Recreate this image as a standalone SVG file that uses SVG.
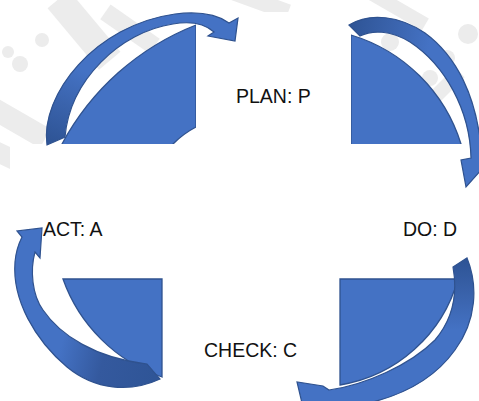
<svg xmlns="http://www.w3.org/2000/svg" width="479" height="401" viewBox="0 0 479 401">
<style>
.pie{fill:#4472C4;stroke:#2F528F;stroke-width:1.3}
.arr{stroke:#2F528F;stroke-width:1.2;stroke-linejoin:miter}
.wm{fill:#ececec}
.lbl{font-family:"Liberation Sans",Arial,sans-serif;font-size:19.5px;fill:#111}
</style>
<defs>
<linearGradient id="g1" gradientUnits="userSpaceOnUse" x1="52" y1="140" x2="80" y2="70"><stop offset="0" stop-color="#2F5597"/><stop offset="0.5" stop-color="#3A63AC"/><stop offset="1" stop-color="#4472C4"/></linearGradient>
<linearGradient id="g2" gradientUnits="userSpaceOnUse" x1="352" y1="28" x2="430" y2="40"><stop offset="0" stop-color="#2F5597"/><stop offset="0.5" stop-color="#3A63AC"/><stop offset="1" stop-color="#4472C4"/></linearGradient>
<linearGradient id="g3" gradientUnits="userSpaceOnUse" x1="462" y1="262" x2="462" y2="330"><stop offset="0" stop-color="#2F5597"/><stop offset="0.5" stop-color="#3A63AC"/><stop offset="1" stop-color="#4472C4"/></linearGradient>
<linearGradient id="g4" gradientUnits="userSpaceOnUse" x1="155" y1="374" x2="60" y2="350"><stop offset="0" stop-color="#2F5597"/><stop offset="0.55" stop-color="#34599E"/><stop offset="1" stop-color="#4472C4"/></linearGradient>
</defs>
<rect width="479" height="401" fill="#fff"/>
<g id="watermark">
<rect class="wm" x="70" y="-10" width="28" height="80" transform="rotate(-40 84 30)"/>
<rect class="wm" x="100" y="20" width="60" height="18" transform="rotate(35 130 29)"/>
<circle class="wm" cx="20" cy="64" r="8"/>
<circle class="wm" cx="8" cy="52" r="6"/>
<circle class="wm" cx="42" cy="40" r="7"/>
<rect class="wm" x="-20" y="110" width="70" height="22" transform="rotate(30 15 121)"/>
<rect class="wm" x="-10" y="148" width="40" height="20" transform="rotate(25 10 158)"/>
<rect class="wm" x="230" y="-6" width="60" height="16" transform="rotate(20 260 2)"/>
<circle class="wm" cx="390" cy="42" r="9"/>
<circle class="wm" cx="468" cy="34" r="10"/>
<circle class="wm" cx="447" cy="58" r="8"/>
<circle class="wm" cx="430" cy="78" r="8"/>
<rect class="wm" x="360" y="0" width="70" height="14" transform="rotate(30 395 7)"/>
<rect class="wm" x="400" y="90" width="70" height="14" transform="rotate(-45 435 97)"/>
</g>
<g id="pie-plan-left"><path class="pie" d="M62,150 L62,144 A260,260 0 0 1 196,25 L196,127 A92,92 0 0 0 173,144 L168,150 Z"/></g>
<g id="pie-plan-right"><path class="pie" d="M351,150 L351,35 A165,165 0 0 1 461,144 L462,150 Z"/></g>
<rect x="196" y="12" width="155" height="132" fill="#fff"/>
<rect x="10" y="144" width="469" height="257" fill="#fff"/>
<g id="pie-act"><path class="pie" d="M63,279 L162,279 L162,377 A160,160 0 0 1 63,279 Z"/></g>
<g id="pie-check"><path class="pie" d="M340,279 L458,279 A147,147 0 0 1 340,385 Z"/></g>
<g id="connectors">
<path class="arr" fill="url(#g1)" d="M47,145 C40,95 95,25 175,14 C200,11 218,15 229,23 L238,18 L235,41 L208,36 L214,32 C205,24 190,21 173,24 C120,32 70,80 65,137 Z"/>
<path class="arr" fill="url(#g2)" d="M349,25 C370,12 400,16 425,33 C455,55 478,95 482,158 L490,160 L466,187 L461,160 L471,158 C470,110 445,65 410,42 C390,30 372,30 360,36 Z"/>
<path class="arr" fill="url(#g3)" d="M467,258 C478,285 477,320 455,350 C430,385 390,402 340,408 L313,411 L306,420 L297,382 L323,386 L329,390 C365,385 410,365 435,340 C452,320 458,295 453,267 Z"/>
<path class="arr" fill="url(#g4)" d="M160,379 C130,393 95,390 67,367 C35,340 12,300 15,262 C16,250 19,243 22,237 L17,231 L42,228 L40,258 L35,252 C30,270 32,295 43,310 C60,335 95,358 147,364 Z"/>
</g>
<g id="node-plan"><text class="lbl" x="236" y="103">PLAN: P</text></g>
<g id="node-do"><text class="lbl" x="403" y="236">DO: D</text></g>
<g id="node-check"><text class="lbl" x="204" y="357">CHECK: C</text></g>
<g id="node-act"><text class="lbl" x="43" y="236">ACT: A</text></g>
</svg>
